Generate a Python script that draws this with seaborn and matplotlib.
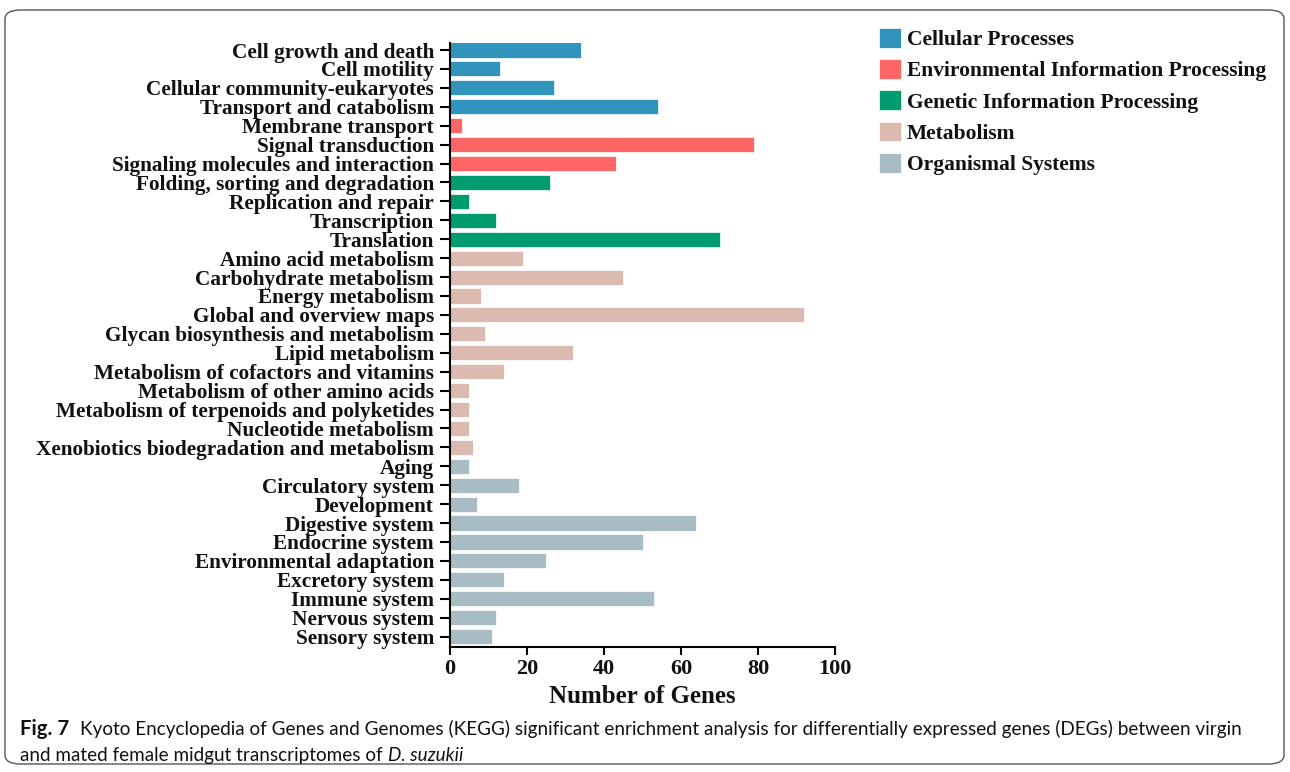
import matplotlib
matplotlib.use("Agg")
import matplotlib.pyplot as plt
from matplotlib.patches import Patch, FancyBboxPatch
import seaborn as sns
import pandas as pd

# KEGG pathway categories, gene counts and their top-level classes
pathways = [
    "Cell growth and death", "Cell motility", "Cellular community-eukaryotes",
    "Transport and catabolism", "Membrane transport", "Signal transduction",
    "Signaling molecules and interaction", "Folding, sorting and degradation",
    "Replication and repair", "Transcription", "Translation",
    "Amino acid metabolism", "Carbohydrate metabolism", "Energy metabolism",
    "Global and overview maps", "Glycan biosynthesis and metabolism",
    "Lipid metabolism", "Metabolism of cofactors and vitamins",
    "Metabolism of other amino acids", "Metabolism of terpenoids and polyketides",
    "Nucleotide metabolism", "Xenobiotics biodegradation and metabolism",
    "Aging", "Circulatory system", "Development", "Digestive system",
    "Endocrine system", "Environmental adaptation", "Excretory system",
    "Immune system", "Nervous system", "Sensory system",
]
gene_counts = [34, 13, 27, 54, 3, 79, 43, 26, 5, 12, 70,
               19, 45, 8, 92, 9, 32, 14, 5, 5, 5, 6,
               5, 18, 7, 64, 50, 25, 14, 53, 12, 11]
classes = (["Cellular Processes"] * 4
           + ["Environmental Information Processing"] * 3
           + ["Genetic Information Processing"] * 4
           + ["Metabolism"] * 11
           + ["Organismal Systems"] * 10)
class_names = ["Cellular Processes", "Environmental Information Processing",
               "Genetic Information Processing", "Metabolism", "Organismal Systems"]
class_colors = ["#3194BD", "#FE6565", "#009B6F", "#DBBAAF", "#A7BCC3"]
x_ticks = [0, 20, 40, 60, 80, 100]

df = pd.DataFrame({"pathway": pathways, "genes": gene_counts, "cls": classes})
palette = dict(zip(class_names, class_colors))

sns.set_theme(style="white")
plt.rcParams["font.family"] = ["Liberation Serif", "DejaVu Serif"]
plt.rcParams["font.weight"] = "bold"

W, H = 1290, 772
fig = plt.figure(figsize=(W / 100, H / 100), dpi=100)
ax = fig.add_axes([450 / W, 125 / H, 385 / W, 604 / H])

sns.barplot(data=df, x="genes", y="pathway", hue="cls", hue_order=class_names,
            palette=palette, order=pathways, dodge=False, width=0.8,
            saturation=1, orient="h", ax=ax, legend=False,
            edgecolor="#ffffff", linewidth=0.5)

ax.set_xlim(0, 100)
ax.set_ylim(len(pathways) - 0.45, -0.37)
ax.set_xticks(x_ticks)
ax.set_xticklabels([str(t) for t in x_ticks], fontsize=16, fontweight="bold")
ax.tick_params(axis="y", labelsize=15.3, length=7.5, width=1.5, color="black",
               pad=4, left=True, labelcolor="#111111")
ax.tick_params(axis="x", length=6, width=1.5, color="black", pad=3, bottom=True,
               labelcolor="#111111")
for lbl in ax.get_yticklabels():
    lbl.set_fontweight("bold")
ax.set_ylabel("")
ax.set_xlabel("Number of Genes", fontsize=18, fontweight="bold", labelpad=4,
              color="#111111")
for side in ["top", "right"]:
    ax.spines[side].set_visible(False)
for side in ["left", "bottom"]:
    ax.spines[side].set_color("black")
    ax.spines[side].set_linewidth(1.5)

handles = [Patch(facecolor=c, edgecolor="white", linewidth=0.5) for c in class_colors]
fig.legend(handles, class_names, loc="upper left",
           bbox_to_anchor=(879 / W, 1 - 28 / H), frameon=False,
           prop={"family": "Liberation Serif", "weight": "bold", "size": 15.5},
           labelcolor="#111111",
           handlelength=1.03, handleheight=1.03, handletextpad=0.25,
           labelspacing=0.42, borderpad=0, borderaxespad=0)

# Rounded frame around the figure panel
frame = FancyBboxPatch((5 / W, 8 / H), 1279 / W, 754 / H,
                       boxstyle="round,pad=0,rounding_size=0.012",
                       transform=fig.transFigure, fill=False,
                       edgecolor="#555555", linewidth=1.0)
fig.patches.append(frame)

# Caption, sized so the first line runs to the right margin
cap_font = ["Lato", "DejaVu Sans"]
renderer = fig.canvas.get_renderer()
y1 = 1 - 735 / H
y2 = 1 - 761 / H
line1 = ("Kyoto Encyclopedia of Genes and Genomes (KEGG) significant enrichment "
         "analysis for differentially expressed genes (DEGs) between virgin")

probe = fig.text(0, 0, line1, size=13, family=cap_font)
cap_size = 13 * (1259 - 88) / probe.get_window_extent(renderer).width
probe.remove()

t1 = fig.text(20 / W, y1, "Fig. 7", family=cap_font, weight="bold",
              size=cap_size * 1.08, va="baseline", color="#111111")
x_end1 = t1.get_window_extent(renderer).x1
fig.text((x_end1 + 11) / W, y1, line1, family=cap_font, weight="normal",
         size=cap_size, va="baseline", color="#111111")
t2 = fig.text(20 / W, y2, "and mated female midgut transcriptomes of ",
              family=cap_font, weight="normal", size=cap_size, va="baseline",
              color="#111111")
x_end2 = t2.get_window_extent(renderer).x1
fig.text((x_end2 + 1) / W, y2, "D. suzukii", family=cap_font,
         weight="normal", style="italic", size=cap_size, va="baseline",
         color="#111111")

fig.savefig("out.png", dpi=100)
